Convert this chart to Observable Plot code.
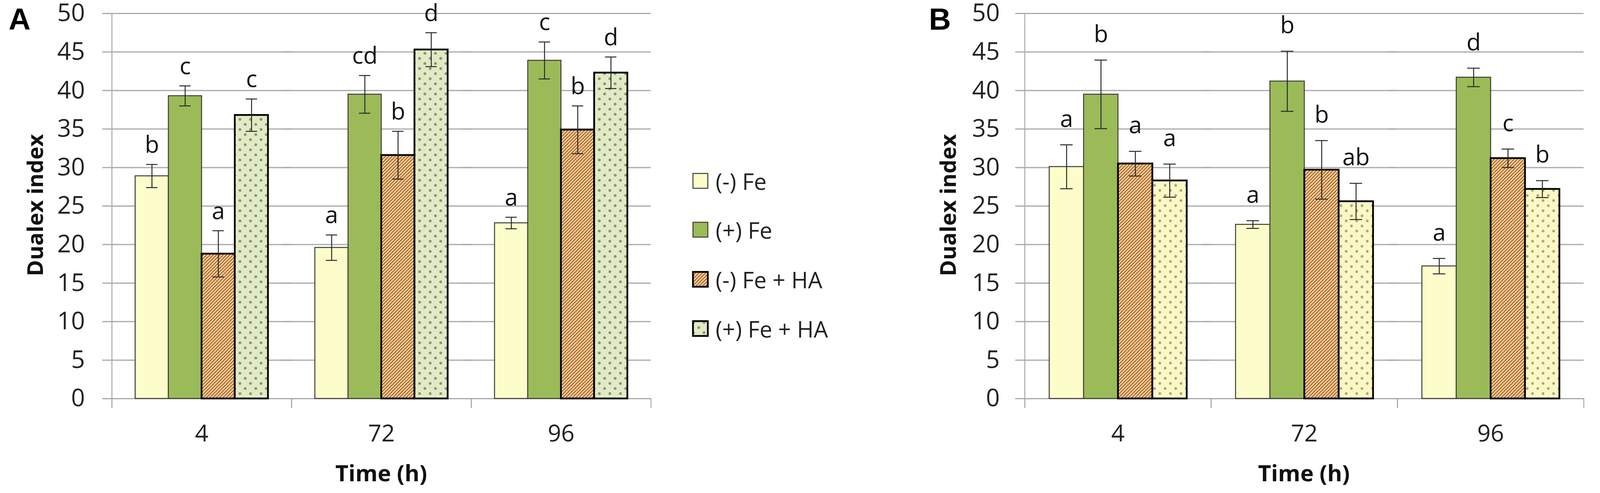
<!DOCTYPE html>
<html>
<head>
<meta charset="utf-8">
<script src="https://cdn.jsdelivr.net/npm/d3@7"></script>
<script src="https://cdn.jsdelivr.net/npm/@observablehq/plot@0.6"></script>
<style>
  html, body { margin: 0; padding: 0; background: #fff; }
  #wrap { position: relative; width: 4562px; height: 1262px; overflow: hidden; font-family: "Open Sans", sans-serif; }
  .panel { position: absolute; top: 0; height: 1262px; }
  #overlay { position: absolute; left: 0; top: 0; pointer-events: none; }
</style>
</head>
<body>
<svg width="0" height="0" style="position:absolute">
  <defs>
    <pattern id="hatch" width="6" height="6" patternUnits="userSpaceOnUse" patternTransform="rotate(45)">
      <rect width="6" height="6" fill="#f4d9a6"></rect>
      <rect width="2.8" height="6" fill="#b0652a"></rect>
    </pattern>
    <pattern id="dotsGreen" width="27" height="26" patternUnits="userSpaceOnUse">
      <rect width="27" height="26" fill="#e1eac6"></rect>
      <circle cx="6.75" cy="6.5" r="3.6" fill="#8a9968"></circle>
      <circle cx="20.25" cy="19.5" r="3.6" fill="#8a9968"></circle>
    </pattern>
    <pattern id="dotsYellow" width="27" height="26" patternUnits="userSpaceOnUse">
      <rect width="27" height="26" fill="#fcf8c6"></rect>
      <circle cx="6.75" cy="6.5" r="3.4" fill="#aea775"></circle>
      <circle cx="20.25" cy="19.5" r="3.4" fill="#aea775"></circle>
    </pattern>
  </defs>
</svg>
<div id="wrap">
  <div id="pa" class="panel" style="left:0;width:2300px"></div>
  <div id="pb" class="panel" style="left:2300px;width:2262px"></div>
  <svg id="overlay" width="4562" height="1262"></svg>
</div>
<script>
// ---- data ----
const times = ["4", "72", "96"];
const yTicks = [0, 5, 10, 15, 20, 25, 30, 35, 40, 45, 50];

// Panel A
const seriesA = ["(-) Fe", "(+) Fe", "(-) Fe + HA", "(+) Fe + HA"];
const meanA_minusFe   = [28.9, 19.6, 22.8];
const meanA_plusFe    = [39.3, 39.5, 43.9];
const meanA_minusFeHA = [18.8, 31.6, 34.9];
const meanA_plusFeHA  = [36.8, 45.3, 42.3];
const errA_minusFe   = [1.5, 1.65, 0.75];
const errA_plusFe    = [1.3, 2.45, 2.4];
const errA_minusFeHA = [3.0, 3.1, 3.1];
const errA_plusFeHA  = [2.1, 2.2, 2.05];
const letA_minusFe   = ["b", "a", "a"];
const letA_plusFe    = ["c", "cd", "c"];
const letA_minusFeHA = ["a", "b", "b"];
const letA_plusFeHA  = ["c", "d", "d"];

// Panel B
const seriesB = ["(-) Fe", "(+) Fe", "(-Fe) + HA", "(-) Fe + 12.5"];
const meanB_minusFe   = [30.1, 22.6, 17.2];
const meanB_plusFe    = [39.5, 41.2, 41.7];
const meanB_minusFeHA = [30.5, 29.7, 31.2];
const meanB_minusFe125 = [28.3, 25.6, 27.2];
const errB_minusFe   = [2.85, 0.5, 1.0];
const errB_plusFe    = [4.45, 3.9, 1.2];
const errB_minusFeHA = [1.6, 3.8, 1.2];
const errB_minusFe125 = [2.15, 2.35, 1.1];
const letB_minusFe   = ["a", "a", "a"];
const letB_plusFe    = ["b", "b", "d"];
const letB_minusFeHA = ["a", "b", "c"];
const letB_minusFe125 = ["a", "ab", "b"];

// ---- styles ----
const fillsA = ["#fdfdcb", "#9bbb59", "url(#hatch)", "url(#dotsGreen)"];
const fillsB = ["#fdfdcb", "#9bbb59", "url(#hatch)", "url(#dotsYellow)"];
const patterned = [false, false, true, true];
const grid = "#a9a9a9";

function buildRows(series, means, errs, lets, fills) {
  const rows = [];
  times.forEach((t, i) => {
    series.forEach((s, j) => {
      rows.push({time: t, series: s, value: means[j][i], err: errs[j][i], letter: lets[j][i],
                 fill: fills[j], patterned: patterned[j]});
    });
  });
  return rows;
}

function makeChart(rows, series, cfg) {
  const innerH = 1262 - 34 - 242;
  return Plot.plot({
    width: cfg.width, height: 1262,
    marginLeft: cfg.ml, marginRight: cfg.mr, marginTop: 34, marginBottom: 242,
    style: {fontFamily: "'Open Sans', sans-serif", background: "transparent", color: "#1a1a1a", overflow: "visible"},
    fx: {domain: times, padding: 0},
    x: {domain: series, paddingInner: 0, paddingOuter: 0.7, axis: null},
    y: {domain: [0, 50], axis: null},
    color: {type: "identity"},
    marks: [
      Plot.ruleY(yTicks, {stroke: grid, strokeWidth: 3, insetLeft: -24}),
      Plot.frame({anchor: "left", stroke: grid, strokeWidth: 2.5, insetTop: innerH, insetBottom: -22}),
      Plot.frame({anchor: "right", stroke: grid, strokeWidth: 2.5, insetTop: innerH, insetBottom: -22}),
      Plot.frame({anchor: "left", facet: "super", stroke: grid, strokeWidth: 2.5, insetBottom: -22}),
      Plot.barY(rows.filter(d => !d.patterned), {fx: "time", x: "series", y: "value", fill: "fill", stroke: "#3d3d33", strokeWidth: 2.5}),
      Plot.barY(rows.filter(d => d.patterned), {fx: "time", x: "series", y: "value", fill: "fill", stroke: "#000", strokeWidth: 4.5}),
      Plot.ruleX(rows, {fx: "time", x: "series", y1: d => d.value - d.err, y2: d => d.value + d.err, stroke: "#2a2a2a", strokeWidth: 2.5}),
      Plot.tickY(rows, {fx: "time", x: "series", y: d => d.value + d.err, stroke: "#2a2a2a", strokeWidth: 2.5, inset: 28}),
      Plot.tickY(rows, {fx: "time", x: "series", y: d => d.value - d.err, stroke: "#2a2a2a", strokeWidth: 2.5, inset: 28}),
      Plot.text(rows, {fx: "time", x: "series", y: d => d.value + d.err, text: "letter", dy: cfg.letterDy, lineAnchor: "bottom", fontSize: 60, fill: "#111"}),
      Plot.axisY({ticks: yTicks, tickSize: 0, tickPadding: cfg.tickPad, fontSize: 62, fill: "#222", label: null}),
      Plot.axisFx({anchor: "bottom", tickSize: 0, tickPadding: 67, fontSize: 60, fill: "#222", label: null})
    ]
  });
}

const rowsA = buildRows(seriesA,
  [meanA_minusFe, meanA_plusFe, meanA_minusFeHA, meanA_plusFeHA],
  [errA_minusFe, errA_plusFe, errA_minusFeHA, errA_plusFeHA],
  [letA_minusFe, letA_plusFe, letA_minusFeHA, letA_plusFeHA], fillsA);
const rowsB = buildRows(seriesB,
  [meanB_minusFe, meanB_plusFe, meanB_minusFeHA, meanB_minusFe125],
  [errB_minusFe, errB_plusFe, errB_minusFeHA, errB_minusFe125],
  [letB_minusFe, letB_plusFe, letB_minusFeHA, letB_minusFe125], fillsB);

document.getElementById("pa").append(makeChart(rowsA, seriesA, {width: 2300, ml: 286, mr: 634, tickPad: 69, letterDy: -30}));
document.getElementById("pb").append(makeChart(rowsB, seriesB, {width: 2262, ml: 322, mr: 508, tickPad: 64, letterDy: -46}));

// ---- overlay: panel letters, axis titles, legends ----
const ov = d3.select("#overlay");
const panels = [
  {tag: "A", tagX: 22, yTitleX: 88, xTitleX: 976, legX: 1774, series: seriesA, fills: fillsA},
  {tag: "B", tagX: 2378, yTitleX: 2425, xTitleX: 3338, legX: 4165, series: seriesB, fills: fillsB}
];
const legY = [463, 588, 715, 841];
panels.forEach(p => {
  ov.append("text").attr("x", p.tagX).attr("y", 76).text(p.tag)
    .attr("font-family", "'Liberation Sans', Arial, sans-serif").attr("font-weight", "bold").attr("font-size", 78).attr("fill", "#000");
  ov.append("text").attr("transform", `translate(${p.yTitleX},525) rotate(-90)`)
    .attr("text-anchor", "middle").attr("dominant-baseline", "central").text("Dualex index")
    .attr("font-family", "'Open Sans', sans-serif").attr("font-weight", "bold").attr("font-size", 56).attr("fill", "#111");
  ov.append("text").attr("x", p.xTitleX).attr("y", 1232).attr("text-anchor", "middle").text("Time (h)")
    .attr("font-family", "'Open Sans', sans-serif").attr("font-weight", "bold").attr("font-size", 58).attr("fill", "#111");
  p.series.forEach((s, j) => {
    const pat = patterned[j];
    ov.append("rect").attr("x", p.legX).attr("y", legY[j] - 19).attr("width", 38).attr("height", 38)
      .attr("fill", p.fills[j]).attr("stroke", pat ? "#000" : "#3d3d33").attr("stroke-width", pat ? 4.5 : 2.5);
    ov.append("text").attr("x", p.legX + 58).attr("y", legY[j]).attr("dominant-baseline", "central").text(s)
      .attr("font-family", "'Open Sans', sans-serif").attr("font-size", 58).attr("fill", "#222");
  });
});
</script>
</body>
</html>
